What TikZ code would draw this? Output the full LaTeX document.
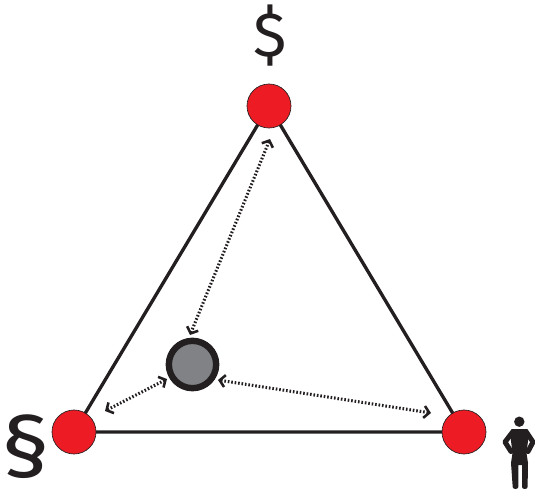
\documentclass[tikz,border=0pt]{standalone}
\usepackage{fontspec}
\setmainfont{Fira Sans}
\usetikzlibrary{arrows.meta}
\definecolor{redc}{HTML}{ED1C24}
\definecolor{ink}{HTML}{231F20}
\definecolor{grayc}{HTML}{808285}
\tikzset{
  vertexdot/.style={circle,draw=ink,line width=0.5pt,fill=redc,minimum size=33pt,inner sep=0pt},
  hub/.style={circle,draw=ink,line width=4.8pt,fill=grayc,minimum size=35.5pt,inner sep=0pt},
  edge/.style={draw=ink,line width=2.5pt},
  dist/.style={draw=ink,line width=2.3pt,dash pattern=on 1.2pt off 1.4pt,
    {Straight Barb[length=4pt,width=9pt,line width=1.9pt,sep=0pt]}-{Straight Barb[length=4pt,width=9pt,line width=1.9pt]}},
  glyph/.style={inner sep=0pt,text=ink}
}
\begin{document}
\begin{tikzpicture}[x=0.75pt,y=-0.75pt]
\useasboundingbox (0,0) rectangle (535,495);
\coordinate (topc) at (269,106);
\coordinate (leftc) at (74,432);
\coordinate (rightc) at (464,432);
\draw[edge] (topc) -- (leftc) -- (rightc) -- cycle;
\node[vertexdot] (top) at (topc) {};
\node[vertexdot] (left) at (leftc) {};
\node[vertexdot] (right) at (rightc) {};
\node[hub] (hub) at (192.5,364.5) {};
\coordinate (a1) at (270,139);
\coordinate (a2) at (190,335);
\coordinate (b1) at (105,411);
\coordinate (b2) at (167,379);
\coordinate (c1) at (431,413);
\coordinate (c2) at (218,380);
\draw[dist] (a1) -- (a2);
\draw[dist] (b1) -- (b2);
\draw[dist] (c1) -- (c2);
\node[glyph,font=\fontsize{47pt}{47pt}\selectfont] (dollar) at (270.5,36) {\$};
\node[glyph,font=\fontsize{64pt}{64pt}\selectfont,xscale=1.12] (section) at (26,447) {§};
% person
\fill[ink] (519.3,421.7) circle (5.2);
\fill[ink] (511.5,429) -- (527.5,429) -- (528.5,437) -- (526.5,453) -- (528,463) -- (527.6,487) arc (0:180:2.8 and 2) -- (522,465) -- (518.3,465) -- (518.3,487) arc (0:180:2.8 and 2) -- (511,463) -- (512.5,453) -- (510.5,437) -- cycle;
\draw[ink,line width=3.8pt,line join=round,line cap=round] (513,431.5) -- (505,442) -- (511,451.5);
\draw[ink,line width=3.8pt,line join=round,line cap=round] (526,431.5) -- (533,442) -- (528,451.5);
\end{tikzpicture}
\end{document}
